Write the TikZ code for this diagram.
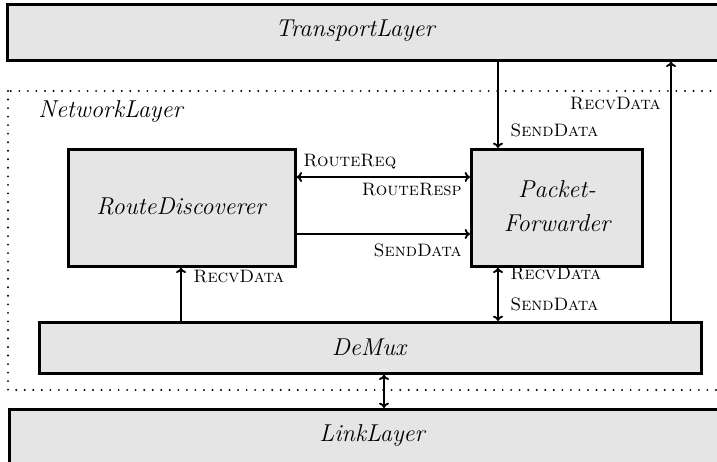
\documentclass[tikz,border=0pt]{standalone}
\usetikzlibrary{arrows.meta}
\begin{document}
\begin{tikzpicture}[x=0.75pt,y=-0.75pt,
  layerbox/.style={draw, line width=2pt, fill=black!10, inner sep=0pt, anchor=north west},
  compname/.style={font=\fontsize{18.3}{25.5}\selectfont\itshape, inner sep=0pt, align=center},
  msg/.style={font=\fontsize{13.5}{16}\selectfont\scshape, inner sep=0pt},
  flow/.style={line width=1.4pt, -{To[length=4pt,width=7.5pt]}},
  flowboth/.style={line width=1.4pt, {To[length=4pt,width=7.5pt]}-{To[length=4pt,width=7.5pt]}}]
\useasboundingbox (0,0) rectangle (717,461);
\clip (0,0) rectangle (717,461);

% network layer frame
\draw[line width=1.6pt, line cap=round, dash pattern=on 0pt off 6.4pt] (8,91) rectangle (760,390);
\node[compname, anchor=west] (netlbl) at (38,112) {NetworkLayer};

% layer boxes
\node[layerbox, minimum width=760pt, minimum height=42pt] (transport) at (6,3) {};
\node[compname] (transportlbl) at (355,31) {TransportLayer};
\node[layerbox, minimum width=760pt, minimum height=60pt] (link) at (8,408) {};
\node[compname] (linklbl) at (372,436) {LinkLayer};

% components inside the network layer
\node[layerbox, minimum width=170.25pt, minimum height=87.75pt] (rd) at (67,148) {};
\node[compname] (rdlbl) at (181,206) {RouteDiscoverer};
\node[layerbox, minimum width=128.25pt, minimum height=87.75pt] (pf) at (470,148) {};
\node[compname] (pflbl) at (557,206) {Packet-\\Forwarder};
\node[layerbox, minimum width=496.5pt, minimum height=38.25pt] (demux) at (38,321) {};
\node[compname] (demuxlbl) at (369,347) {DeMux};

% connector positions
\coordinate (sx) at (498,0);
\coordinate (rx) at (671,0);
\coordinate (dx) at (181,0);
\coordinate (lx) at (384,0);
\coordinate (ry) at (0,177);
\coordinate (sy) at (0,234);

% connectors
\draw[flow] (transport.south -| sx) -- (pf.north -| sx);
\draw[flow] (demux.north -| rx) -- (transport.south -| rx);
\draw[flow] (demux.north -| dx) -- (rd.south -| dx);
\draw[flowboth] (pf.south -| sx) -- (demux.north -| sx);
\draw[flowboth] (demux.south -| lx) -- (link.north -| lx);
\draw[flowboth] (rd.east |- ry) -- (pf.west |- ry);
\draw[flow] (rd.east |- sy) -- (pf.west |- sy);

% message labels
\node[msg, anchor=east] (m1) at (661,104) {RecvData};
\node[msg, anchor=west] (m2) at (510,130) {SendData};
\node[msg, anchor=west] (m3) at (303,162) {RouteReq};
\node[msg, anchor=east] (m4) at (462,190) {RouteResp};
\node[msg, anchor=east] (m5) at (462,250) {SendData};
\node[msg, anchor=west] (m6) at (193,277) {RecvData};
\node[msg, anchor=west] (m7) at (510,274) {RecvData};
\node[msg, anchor=west] (m8) at (510,304) {SendData};
\end{tikzpicture}
\end{document}
